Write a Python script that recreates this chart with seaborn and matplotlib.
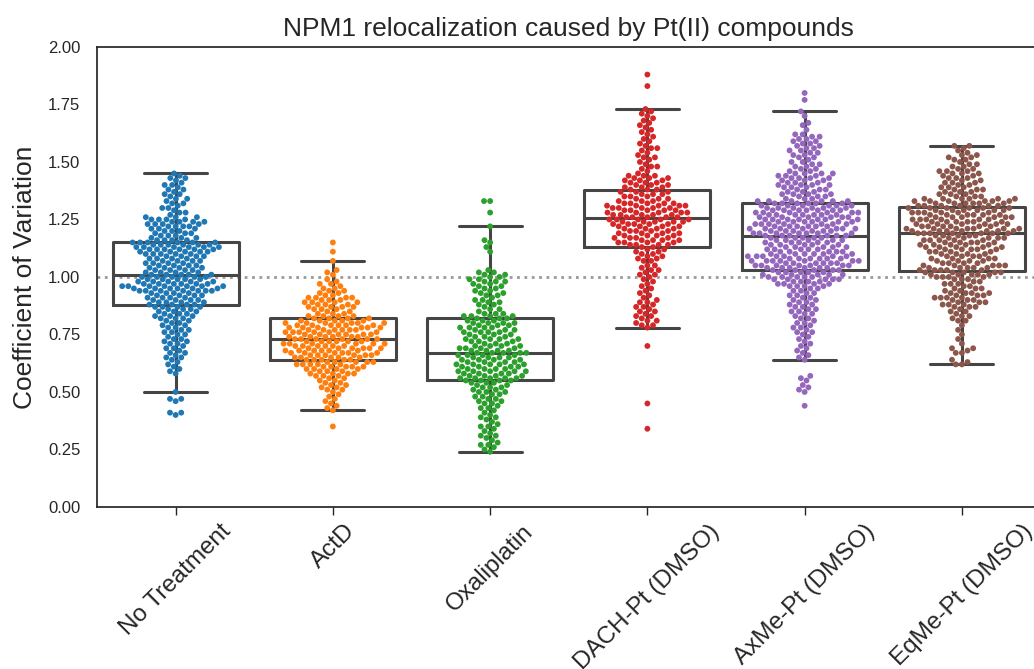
import numpy as np
import pandas as pd
import matplotlib
matplotlib.use("Agg")
import matplotlib.pyplot as plt
import seaborn as sns

categories = ["No Treatment", "ActD", "Oxaliplatin", "DACH-Pt (DMSO)",
              "AxMe-Pt (DMSO)", "EqMe-Pt (DMSO)"]
yticks = [0.00, 0.25, 0.50, 0.75, 1.00, 1.25, 1.50, 1.75, 2.00]

NT_V = [1.45, 1.44, 1.43, 1.42, 1.41, 1.40, 1.39, 1.38, 1.37, 1.36,
        1.35, 1.34, 1.33, 1.32, 1.31, 1.30, 1.29, 1.28, 1.27, 1.26,
        1.25, 1.24, 1.23, 1.22, 1.21, 1.20, 1.19, 1.18, 1.17, 1.16,
        1.15, 1.14, 1.13, 1.12, 1.11, 1.10, 1.09, 1.08, 1.07, 1.06,
        1.05, 1.04, 1.03, 1.02, 1.01, 1.00, 0.99, 0.98, 0.97, 0.96,
        0.95, 0.94, 0.93, 0.92, 0.91, 0.90, 0.89, 0.88, 0.87, 0.86,
        0.85, 0.84, 0.83, 0.82, 0.81, 0.80, 0.79, 0.78, 0.77, 0.76,
        0.75, 0.74, 0.73, 0.72, 0.71, 0.70, 0.69, 0.68, 0.67, 0.66,
        0.65, 0.64, 0.63, 0.62, 0.61, 0.60, 0.59, 0.58,
        0.50, 0.47, 0.46, 0.41, 0.40]
NT_C = [1, 1, 2, 1, 1, 2, 1, 2, 1, 2, 1, 2, 1, 2, 1, 2, 1, 2, 1,
        3, 4, 4, 4, 4, 3, 3,
        3, 3, 3, 4,
        6, 6, 6, 6, 5, 5,
        4, 4, 4, 4, 4, 4, 4, 4, 5,
        5, 5, 5,
        6, 7, 6, 7,
        4, 4, 4, 4, 4,
        4, 4, 3, 3, 3, 3,
        3, 2, 2, 2, 2, 2,
        2, 2, 1, 2, 2, 2, 1, 2, 1,
        2, 1, 2, 1, 1, 1, 1, 1, 1, 1,
        1, 2, 1, 2, 1]

AD_V = [1.15, 1.11, 1.07, 1.03, 1.02, 1.01,
        0.99, 0.98, 0.97, 0.96, 0.95, 0.94, 0.93, 0.92, 0.91, 0.90,
        0.89, 0.88, 0.87, 0.86, 0.85, 0.84, 0.83, 0.82, 0.81, 0.80,
        0.79, 0.78, 0.77, 0.76, 0.75, 0.74, 0.73, 0.72, 0.71, 0.70,
        0.69, 0.68, 0.67, 0.66, 0.65, 0.64, 0.63, 0.62, 0.61, 0.60,
        0.59, 0.58, 0.57, 0.56, 0.55, 0.54, 0.53, 0.52, 0.51, 0.50,
        0.49, 0.48, 0.47, 0.46, 0.45, 0.44, 0.43, 0.42, 0.35]
AD_C = [1, 1, 1, 1, 1, 1,
        1, 1, 2, 1, 2, 2, 2, 2,
        4, 3, 4, 3, 4,
        3, 2, 3,
        4, 4, 5,
        6, 6, 6, 6, 6, 6,
        6, 6, 6, 6, 6, 6, 6, 6, 6, 5,
        5, 5, 5, 5,
        4, 3, 4, 3,
        2, 2, 2, 2, 2,
        2, 1, 1, 1, 1, 1, 1, 1, 1, 1,
        1]

OX_V = [1.33, 1.28, 1.22, 1.16, 1.15, 1.13, 1.11,
        1.03, 1.02, 1.01, 1.00,
        0.99, 0.98, 0.97, 0.96, 0.95, 0.94, 0.93, 0.92, 0.91, 0.90,
        0.89, 0.88, 0.87, 0.86, 0.85, 0.84, 0.83, 0.82, 0.81, 0.80,
        0.79, 0.78, 0.77, 0.76, 0.75, 0.74, 0.73, 0.72, 0.71, 0.70,
        0.69, 0.68, 0.67, 0.66, 0.65, 0.64, 0.63, 0.62, 0.61, 0.60,
        0.59, 0.58, 0.57, 0.56, 0.55, 0.54, 0.53, 0.52, 0.51, 0.50,
        0.49, 0.48, 0.47, 0.46, 0.45, 0.44, 0.43, 0.42, 0.41, 0.40,
        0.39, 0.38, 0.37, 0.36, 0.35, 0.34, 0.33, 0.32, 0.31, 0.30,
        0.29, 0.28, 0.27, 0.26, 0.25, 0.24]
OX_C = [2, 1, 1, 1, 1, 1, 1,
        1, 2, 2, 2,
        2, 3, 2, 2, 2, 2, 2,
        2, 1, 2, 2, 2, 1, 2, 1,
        3, 4, 3, 3, 4, 3,
        4, 3, 4, 3, 3, 4, 3, 3, 4,
        4, 4, 5, 4, 4, 4,
        4, 5, 4, 4, 5, 4, 4, 5, 4,
        3, 2, 3, 2, 3, 2, 2,
        2, 2, 2, 1, 2, 1,
        1, 1, 2, 1, 1, 1, 2, 1, 1, 1, 2, 1, 1, 1, 2,
        1, 1, 1]

DA_V = [1.88, 1.83, 1.73, 1.72,
        1.71, 1.70, 1.69, 1.68, 1.67, 1.66, 1.65, 1.64, 1.63, 1.62,
        1.61, 1.60, 1.59, 1.58, 1.57, 1.56, 1.55, 1.54, 1.53, 1.52,
        1.51, 1.50, 1.49, 1.48, 1.47, 1.46, 1.45, 1.44, 1.43, 1.42,
        1.41, 1.40, 1.39, 1.38, 1.37, 1.36, 1.35, 1.34, 1.33, 1.32,
        1.31, 1.30, 1.29, 1.28, 1.27, 1.26, 1.25, 1.24, 1.23, 1.22,
        1.21, 1.20, 1.19, 1.18, 1.17, 1.16, 1.15, 1.14, 1.13, 1.12,
        1.11, 1.10, 1.09, 1.08, 1.07,
        1.05, 1.04, 1.03, 1.02, 1.01, 1.00, 0.99, 0.98, 0.97, 0.96,
        0.95, 0.94, 0.93, 0.92, 0.91, 0.90, 0.89, 0.88, 0.87, 0.86,
        0.85, 0.84, 0.83, 0.82, 0.81, 0.80, 0.79, 0.78,
        0.70, 0.45, 0.34]
DA_C = [1, 1, 1, 1,
        1, 1, 1, 1, 1, 1, 1, 1, 1, 1, 1, 1, 1,
        1, 1, 2, 1, 1, 1, 2, 1, 1, 1, 2, 1, 1, 1,
        3, 3, 3, 3, 3, 3,
        3, 3, 3, 3, 3, 3,
        5, 5, 5, 5, 5, 5,
        5, 5, 5, 5,
        4, 4, 4, 4, 4, 4, 4, 4, 4,
        2, 2, 2, 2, 2, 2, 2,
        2, 1, 2, 1, 2, 1, 1, 1, 1, 1, 1, 1, 1, 1, 1,
        1, 2, 1, 2, 1, 2, 1, 2, 1, 2, 1, 2, 1,
        1, 1, 1]

AX_V = [1.80, 1.77, 1.72, 1.70, 1.67, 1.66, 1.64,
        1.62, 1.61, 1.60, 1.59, 1.58, 1.57, 1.56, 1.55, 1.54, 1.53,
        1.52, 1.51, 1.50, 1.49, 1.48, 1.47, 1.46, 1.45, 1.44, 1.43,
        1.42, 1.41, 1.40, 1.39, 1.38, 1.37, 1.36, 1.35, 1.34, 1.33,
        1.32, 1.31, 1.30, 1.29, 1.28, 1.27, 1.26, 1.25, 1.24, 1.23,
        1.22, 1.21, 1.20, 1.19, 1.18, 1.17, 1.16, 1.15, 1.14, 1.13,
        1.12, 1.11, 1.10, 1.09, 1.08, 1.07, 1.06, 1.05, 1.04, 1.03,
        1.02, 1.01, 1.00, 0.99, 0.98, 0.97, 0.96, 0.95, 0.94, 0.93,
        0.92, 0.91, 0.90, 0.89, 0.88, 0.87, 0.86, 0.85, 0.84, 0.83,
        0.82, 0.81, 0.80, 0.79, 0.78, 0.77, 0.76, 0.75, 0.74, 0.73,
        0.72, 0.71, 0.70, 0.69, 0.68, 0.67, 0.66, 0.65, 0.64,
        0.57, 0.56, 0.55, 0.53, 0.52, 0.51, 0.50, 0.44]
AX_C = [1, 1, 1, 1, 1, 1, 1,
        2, 2, 2, 2, 2, 2, 2, 2,
        2, 2, 2, 1, 2, 2, 2,
        2, 2,
        4, 3, 4, 3,
        3, 4, 3, 3, 3, 4, 3, 3,
        6, 6, 6,
        6, 7, 6, 7, 6, 7, 6, 7, 6, 7, 6, 7, 6,
        5, 5, 5, 5, 5, 5, 5,
        6, 7, 6, 7, 6, 7, 6,
        5, 5, 5, 5, 5,
        4, 4, 4,
        2, 2, 2, 2, 2, 2, 2, 2, 2, 2, 2, 2,
        1, 2, 1, 2, 1, 2, 1, 2, 1,
        1, 1, 1, 1, 1, 1, 1, 1, 1, 1,
        1,
        1, 1, 1, 1, 1, 1, 1, 1]

EQ_V = [1.57, 1.56, 1.55, 1.54, 1.53, 1.52, 1.51, 1.50, 1.49, 1.48,
        1.47, 1.46, 1.45, 1.44, 1.43, 1.42, 1.41, 1.40, 1.39, 1.38,
        1.37, 1.36, 1.35, 1.34, 1.33, 1.32, 1.31, 1.30, 1.29, 1.28,
        1.27, 1.26, 1.25, 1.24, 1.23, 1.22, 1.21, 1.20, 1.19, 1.18,
        1.17, 1.16, 1.15, 1.14, 1.13, 1.12, 1.11, 1.10, 1.09, 1.08,
        1.07, 1.06, 1.05, 1.04, 1.03, 1.02, 1.01, 1.00, 0.99, 0.98,
        0.97, 0.96, 0.95, 0.94, 0.93, 0.92, 0.91, 0.90, 0.89, 0.88,
        0.87, 0.86, 0.85, 0.84, 0.83, 0.82, 0.81,
        0.79, 0.77, 0.75, 0.73, 0.71, 0.69, 0.68, 0.67, 0.64, 0.63, 0.62]
EQ_C = [2, 1, 1,
        1, 2, 2, 2, 1, 2, 2,
        2, 3,
        3, 2, 3, 2, 3, 2, 3,
        3, 3, 3, 3,
        6, 6, 6, 6, 6,
        6, 6, 6, 6, 6, 6, 6, 6,
        7, 7, 7,
        5, 5, 5, 5, 5, 5, 5,
        4, 4,
        4, 4, 4, 4,
        5, 5, 5, 5, 5, 4,
        3, 2, 3, 2, 3, 2,
        4, 3, 4,
        3, 3, 3, 3,
        1, 2, 1, 2, 1, 2,
        1, 1, 1, 1, 1, 2, 1, 2, 1, 1, 2]

groups = [(NT_V, NT_C), (AD_V, AD_C), (OX_V, OX_C),
          (DA_V, DA_C), (AX_V, AX_C), (EQ_V, EQ_C)]

rows = []
for name, (vals, cnts) in zip(categories, groups):
    for v in np.repeat(vals, cnts):
        rows.append((name, float(v)))
df = pd.DataFrame(rows, columns=["group", "cv"])

sns.set_theme(style="ticks")
plt.rcParams["font.family"] = ["Liberation Sans", "DejaVu Sans"]

fig = plt.figure(figsize=(10.34, 6.69), dpi=100)
ax = fig.add_axes([0.0938, 0.2422, 0.9125, 0.6876])

ax.axhline(1.0, color="0.6", ls=":", lw=2, zorder=0)
sns.swarmplot(data=df, x="group", y="cv", hue="group", order=categories,
              palette="tab10", size=4.2, legend=False, ax=ax)
sns.boxplot(data=df, x="group", y="cv", order=categories, fill=False,
            color="0.27", linewidth=2.2, showfliers=False, width=0.8, ax=ax)

ax.set_ylim(0, 2.0)
ax.set_xlim(-0.5, 5.5)
ax.set_yticks(yticks)
ax.set_yticklabels([f"{t:.2f}" for t in yticks], fontsize=12)
ax.set_xticks(range(len(categories)))
ax.set_xticklabels(categories, rotation=45, ha="center", fontsize=17.5)
ax.set_xlabel("")
ax.set_ylabel("Coefficient of Variation", fontsize=19, labelpad=8)
ax.set_title("NPM1 relocalization caused by Pt(II) compounds", fontsize=19, pad=8)
ax.tick_params(axis="x", length=6, width=1)
ax.tick_params(axis="y", length=0, pad=12)

fig.savefig("out.png", dpi=100)
